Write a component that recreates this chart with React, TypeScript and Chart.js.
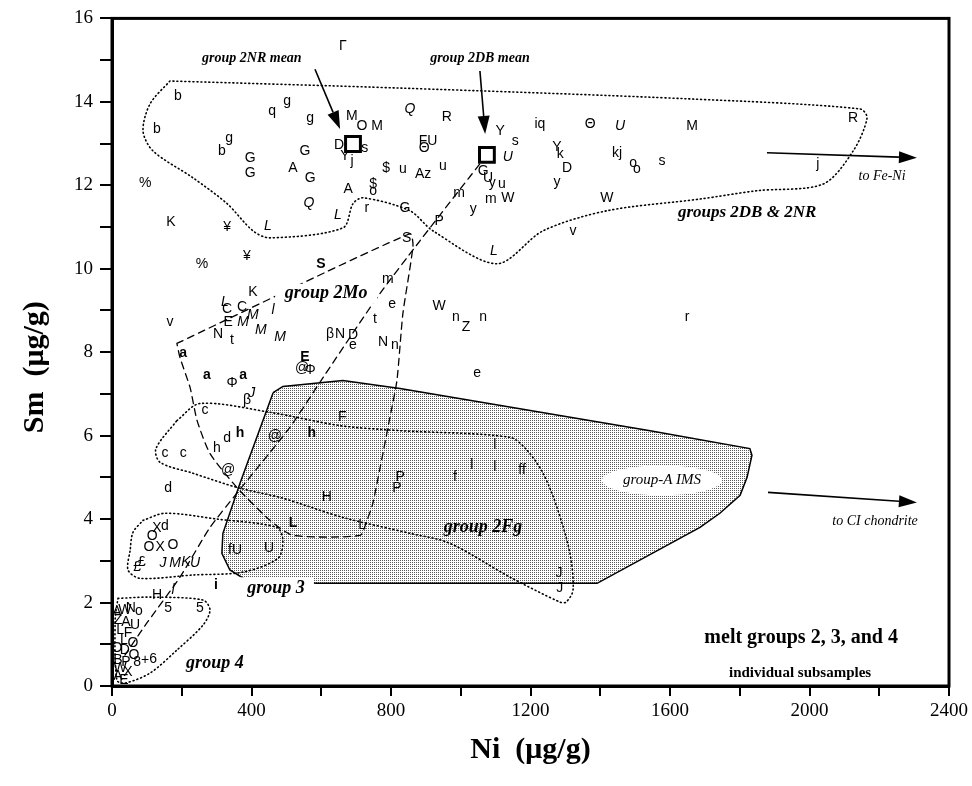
import React, { useEffect, useRef } from 'react';
import { Chart, registerables } from 'chart.js';

Chart.register(...registerables);

// ---------- axis ----------
const xTickStep = 200;
const xLabelEvery = 400;
const yTickStep = 1;
const yLabelEvery = 2;

// ---------- sample labels (upright letters) ----------
const uprightText = ['Γ','b','q','g','g','M','O','M','b','g','b','D','s','Y','j','G','G','G','A','G','$','u','%','A','$','o','G','K','¥','r',
  'R','Y','s','iq','Θ','M','FU','Θ','Y','k','kj','o','o','s','Az','u','G','U','y','u','D','y','m','m','W','y','W','P','v','S','R','j',
  '%','¥','m','K','C','C','e','v','E','t','N','t','β','N','D','e','N','n','@','Φ','Φ','β','c','F','W','n','Z','n','r','e',
  'd','h','@','c','c','@','d','H','P','P','L','d','X','O','X','O','O','fU','U','£','£','H','5','5','f','l','l','l','ff','J','J',
  'A','W','N','o','Z','A','U','L','F','L','O','O','D','O','B','P','W','X','A','E','8','+','6'];
const uprightNi = [662,189,459,502,568,688,717,760,129,336,315,651,725,668,688,396,396,553,519,568,786,834,95,677,749,749,840,169,330,731,
  960,1113,1156,1227,1371,1663,906,895,1276,1285,1448,1494,1505,1577,892,949,1064,1078,1090,1118,1305,1276,995,1086,1135,1036,1419,938,1322,845,2125,2024,
  258,387,791,404,330,373,803,166,333,754,304,344,625,654,691,691,777,811,545,568,344,387,267,660,938,986,1015,1064,1649,1047,
  330,301,467,152,204,333,161,616,826,817,717,152,129,115,138,175,106,353,450,86,72,129,161,252,983,1032,1098,1098,1176,1282,1284,
  14,37,54,77,17,40,66,23,46,34,60,14,37,63,17,40,23,46,17,34,72,95,118];
const uprightSm = [15.33,14.14,13.78,14.02,13.61,13.66,13.42,13.42,13.35,13.13,12.82,12.97,12.9,12.7,12.58,12.66,12.3,12.82,12.42,12.18,12.42,12.39,12.06,11.91,12.03,11.87,11.46,11.12,11.0,11.46,
  13.64,13.3,13.06,13.47,13.47,13.42,13.06,12.9,12.92,12.75,12.78,12.54,12.39,12.58,12.27,12.46,12.34,12.18,12.06,12.03,12.42,12.08,11.82,11.67,11.7,11.44,11.7,11.15,10.91,10.74,13.61,12.51,
  10.12,10.31,9.76,9.43,9.04,9.07,9.14,8.71,8.71,8.8,8.44,8.28,8.44,8.44,8.42,8.16,8.23,8.16,7.61,7.56,7.25,6.84,6.6,6.44,9.11,8.83,8.59,8.83,8.85,7.49,
  5.93,5.69,6.0,5.57,5.57,5.17,4.74,4.52,5.0,4.74,3.85,3.83,3.78,3.59,3.33,3.37,3.33,3.25,3.3,2.97,2.85,2.18,1.87,1.87,5.0,5.29,5.24,5.77,5.17,2.7,2.34,
  1.77,1.82,1.87,1.79,1.58,1.53,1.46,1.34,1.27,1.1,1.03,0.91,0.86,0.74,0.62,0.57,0.43,0.33,0.24,0.14,0.57,0.62,0.65];

// ---------- sample labels (italic letters) ----------
const italicText = ['Q','Q','L','L','L','U','U','M','M','M','M','l','L','J','J','M','K','U','l'];
const italicNi = [565,854,447,648,1095,1457,1135,404,376,427,482,462,324,401,146,181,212,238,175];
const italicSm = [11.58,13.83,11.03,11.29,10.43,13.42,12.68,8.88,8.71,8.52,8.37,9.0,9.19,7.03,2.94,2.94,2.97,2.94,2.3];

// ---------- sample labels (bold letters) ----------
const boldText = ['a','a','a','E','S','L','h','h','i'];
const boldNi = [204,272,376,553,599,519,367,573,298];
const boldSm = [7.97,7.46,7.44,7.87,10.12,3.9,6.05,6.05,2.42];

// ---------- group means ----------
const meanNi = [691, 1075];
const meanSm = [12.99, 12.73];

// ---------- outlines ----------
const g2DBNRNi = [166,109,89,118,232,330,404,453,662,691,720,854,920,1104,1236,1419,1686,1849,2039,2125,2165,2145,1657,826,166];
const g2DBNRSm = [14.5,13.95,13.3,12.82,12.18,11.56,10.91,10.74,10.98,11.56,11.7,11.39,10.91,10.12,10.91,11.39,11.67,11.87,12.03,12.82,13.61,13.83,14.07,14.33,14.5];

const g2MoNi = [186,854,863,834,817,797,748,731,711,519,453,358,281,244,224,195,186];
const g2MoSm = [8.21,10.84,10.55,8.92,7.32,6.44,4.38,3.97,3.61,3.61,3.97,4.76,5.57,6.36,7.15,7.87,8.21];

const mixNi = [1075,883,760,605,510,358,281,195,100,37];
const mixSm = [12.73,10.67,9.31,7.39,6.2,4.62,3.8,2.61,1.51,0.74];

const imsNi = [462,490,662,826,1543,1829,1835,1821,1801,1743,1686,1391,588,381,338,315,318,367,462];
const imsSm = [7.03,7.18,7.32,7.13,6.12,5.69,5.53,5.0,4.57,4.14,3.8,2.46,2.46,2.56,2.78,3.18,3.66,4.86,7.03];

const g2FgNi = [186,252,453,654,826,1141,1190,1236,1276,1313,1322,1302,1285,1141,969,854,662,490,358,232,138,126,186];
const g2FgSm = [6.36,6.77,6.56,6.24,6.12,5.96,5.65,5.1,4.28,3.18,2.3,2.01,2.01,2.61,3.42,3.66,4.04,4.5,4.76,5.1,5.36,5.69,6.36];

const g3Ni = [89,152,301,473,490,476,376,232,80,46,52,60,89];
const g3Sm = [3.97,4.14,4.0,3.8,3.49,3.06,2.73,2.66,2.58,2.78,3.25,3.68,3.97];

const g4Ni = [17,109,261,281,261,186,109,37,14,9,17];
const g4Sm = [2.1,2.13,2.06,1.82,1.46,0.86,0.31,0.07,0.14,1.58,2.1];

const zip = (xs: number[], ys: number[]) => xs.map((x, i) => ({ x, y: ys[i] }));

const SERIF = '"Liberation Serif", "Times New Roman", serif';
const SANS = '"Liberation Sans", Arial, sans-serif';

type Note = { text: string; x: number; y: number; font: string; bg?: 'rect' | 'ellipse'; bw?: number; bh?: number };
const notes: Note[] = [
  { text: 'group 2NR mean', x: 401, y: 15.05, font: `bold italic 14px ${SERIF}` },
  { text: 'group 2DB mean', x: 1055, y: 15.05, font: `bold italic 14px ${SERIF}` },
  { text: 'groups 2DB & 2NR', x: 1821, y: 11.34, font: `bold italic 17px ${SERIF}` },
  { text: 'to Fe-Ni', x: 2208, y: 12.22, font: `italic 14px ${SERIF}` },
  { text: 'group 2Mo', x: 614, y: 9.4, font: `bold italic 18px ${SERIF}`, bg: 'rect', bw: 102, bh: 20 },
  { text: 'group-A IMS', x: 1577, y: 4.93, font: `italic 15px ${SERIF}`, bg: 'ellipse', bw: 120, bh: 30 },
  { text: 'to CI chondrite', x: 2188, y: 3.95, font: `italic 14px ${SERIF}` },
  { text: 'group 2Fg', x: 1064, y: 3.8, font: `bold italic 18px ${SERIF}` },
  { text: 'group 3', x: 470, y: 2.34, font: `bold italic 18px ${SERIF}`, bg: 'rect', bw: 76, bh: 22 },
  { text: 'group 4', x: 295, y: 0.55, font: `bold italic 18px ${SERIF}` },
  { text: 'melt groups 2, 3, and 4', x: 1976, y: 1.15, font: `bold 20px ${SERIF}` },
  { text: 'individual subsamples', x: 1973, y: 0.31, font: `bold 15px ${SERIF}` },
];

type Arrow = { x1: number; y1: number; x2: number; y2: number };
const arrows: Arrow[] = [
  { x1: 582, y1: 14.78, x2: 654, y2: 13.35 },
  { x1: 1055, y1: 14.74, x2: 1070, y2: 13.23 },
  { x1: 1878, y1: 12.78, x2: 2308, y2: 12.66 },
  { x1: 1881, y1: 4.64, x2: 2308, y2: 4.4 },
];

const textPlugin = {
  id: 'textMarks',
  afterDatasetsDraw(chart: any) {
    const ctx = chart.ctx;
    chart.data.datasets.forEach((ds: any, i: number) => {
      if (!ds.pointText) return;
      const meta = chart.getDatasetMeta(i);
      ctx.save();
      ctx.font = ds.textFont;
      ctx.fillStyle = '#000';
      ctx.textAlign = 'center';
      ctx.textBaseline = 'middle';
      meta.data.forEach((el: any, j: number) => ctx.fillText(ds.pointText[j], el.x, el.y));
      ctx.restore();
    });
  },
  afterDraw(chart: any) {
    const ctx = chart.ctx;
    const xs = chart.scales.x, ys = chart.scales.y;
    const a = chart.chartArea;
    ctx.save();
    ctx.strokeStyle = '#000';
    ctx.lineWidth = 3;
    ctx.strokeRect(a.left, a.top, a.right - a.left, a.bottom - a.top);
    arrows.forEach((ar) => {
      const x1 = xs.getPixelForValue(ar.x1), y1 = ys.getPixelForValue(ar.y1);
      const x2 = xs.getPixelForValue(ar.x2), y2 = ys.getPixelForValue(ar.y2);
      const ang = Math.atan2(y2 - y1, x2 - x1);
      const hl = 18, hw = 6;
      ctx.lineWidth = 1.6;
      ctx.beginPath();
      ctx.moveTo(x1, y1);
      ctx.lineTo(x2 - hl * Math.cos(ang), y2 - hl * Math.sin(ang));
      ctx.stroke();
      ctx.beginPath();
      ctx.moveTo(x2, y2);
      ctx.lineTo(x2 - hl * Math.cos(ang) + hw * Math.sin(ang), y2 - hl * Math.sin(ang) - hw * Math.cos(ang));
      ctx.lineTo(x2 - hl * Math.cos(ang) - hw * Math.sin(ang), y2 - hl * Math.sin(ang) + hw * Math.cos(ang));
      ctx.closePath();
      ctx.fillStyle = '#000';
      ctx.fill();
    });
    ctx.textAlign = 'center';
    ctx.textBaseline = 'middle';
    notes.forEach((n) => {
      const px = xs.getPixelForValue(n.x), py = ys.getPixelForValue(n.y);
      if (n.bg) {
        ctx.fillStyle = '#fff';
        ctx.beginPath();
        if (n.bg === 'ellipse') ctx.ellipse(px, py, n.bw! / 2, n.bh! / 2, 0, 0, Math.PI * 2);
        else ctx.rect(px - n.bw! / 2, py - n.bh! / 2, n.bw!, n.bh!);
        ctx.fill();
      }
      ctx.fillStyle = '#000';
      ctx.font = n.font;
      ctx.fillText(n.text, px, py);
    });
    ctx.restore();
  },
};

export default function App() {
  const ref = useRef<HTMLCanvasElement>(null);
  useEffect(() => {
    const canvas = ref.current!;
    const pc = document.createElement('canvas');
    pc.width = 2; pc.height = 2;
    const pctx = pc.getContext('2d')!;
    pctx.fillStyle = '#fff'; pctx.fillRect(0, 0, 2, 2);
    pctx.fillStyle = '#5a5a5a'; pctx.fillRect(0, 0, 1, 1);
    const pattern = canvas.getContext('2d')!.createPattern(pc, 'repeat');

    const outline = (data: any, dash: number[], width: number, tension: number, order: number) => ({
      data, showLine: true, fill: false, pointRadius: 0, borderColor: '#000', borderWidth: width,
      borderDash: dash, borderCapStyle: 'round', tension, order,
    });
    const textSet = (t: string[], xs: number[], ys: number[], font: string) => ({
      data: zip(xs, ys), pointRadius: 0, showLine: false, pointText: t, textFont: font, order: 0,
    });

    const chart = new Chart(canvas, {
      type: 'scatter',
      data: {
        datasets: [
          textSet(uprightText, uprightNi, uprightSm, `14px ${SANS}`),
          textSet(italicText, italicNi, italicSm, `italic 14px ${SANS}`),
          textSet(boldText, boldNi, boldSm, `bold 14px ${SANS}`),
          { data: zip(meanNi, meanSm), pointStyle: 'rect', pointRadius: 10.5, borderWidth: 3, borderColor: '#000', backgroundColor: '#fff', order: 1 } as any,
          outline(zip(mixNi, mixSm), [7, 5], 1.3, 0.2, 3),
          outline(zip(g2DBNRNi, g2DBNRSm), [1, 3], 1.6, 0.3, 4),
          outline(zip(g2MoNi, g2MoSm), [7, 5], 1.3, 0.2, 4),
          outline(zip(g2FgNi, g2FgSm), [1, 3], 1.6, 0.3, 4),
          outline(zip(g3Ni, g3Sm), [1, 3], 1.6, 0.3, 4),
          outline(zip(g4Ni, g4Sm), [1, 3], 1.6, 0.3, 4),
          { data: zip(imsNi, imsSm), showLine: true, fill: 'shape', backgroundColor: pattern, pointRadius: 0, borderColor: '#000', borderWidth: 1.5, tension: 0, order: 9 } as any,
        ],
      },
      options: {
        animation: false,
        responsive: false,
        layout: { padding: { left: 0, right: 23, top: 17, bottom: 0 } },
        plugins: { legend: { display: false }, tooltip: { enabled: false }, title: { display: false } },
        scales: {
          x: {
            type: 'linear', min: 0, max: 2400,
            afterFit: (s: any) => { s.height = 100; },
            ticks: {
              stepSize: xTickStep, autoSkip: false, maxRotation: 0, padding: 4, color: '#000',
              font: { family: SERIF, size: 19 },
              callback: (v: any) => (Number(v) % xLabelEvery === 0 ? String(v) : ''),
            },
            grid: { drawOnChartArea: false, drawTicks: true, tickLength: 10, color: '#000', lineWidth: 2 },
            border: { display: true, color: '#000', width: 3 },
            title: { display: true, text: 'Ni  (μg/g)', color: '#000', font: { family: SERIF, size: 30, weight: 'bold' }, padding: { top: 0, bottom: 18 } },
          },
          y: {
            type: 'linear', min: 0, max: 16,
            afterFit: (s: any) => { s.width = 112; },
            ticks: {
              stepSize: yTickStep, autoSkip: false, padding: 7, color: '#000',
              font: { family: SERIF, size: 19 },
              callback: (v: any) => (Number(v) % yLabelEvery === 0 ? String(v) : ''),
            },
            grid: { drawOnChartArea: false, drawTicks: true, tickLength: 12, color: '#000', lineWidth: 2 },
            border: { display: true, color: '#000', width: 3 },
            title: { display: true, text: 'Sm  (μg/g)    ', color: '#000', font: { family: SERIF, size: 30, weight: 'bold' }, padding: { top: 17, bottom: 0 } },
          },
        },
      } as any,
      plugins: [textPlugin],
    });
    return () => chart.destroy();
  }, []);

  return (
    <div style={{ position: 'fixed', left: 0, top: 0, width: 972, height: 786, background: '#fff' }}>
      <canvas ref={ref} width={972} height={786} style={{ display: 'block' }} />
    </div>
  );
}
